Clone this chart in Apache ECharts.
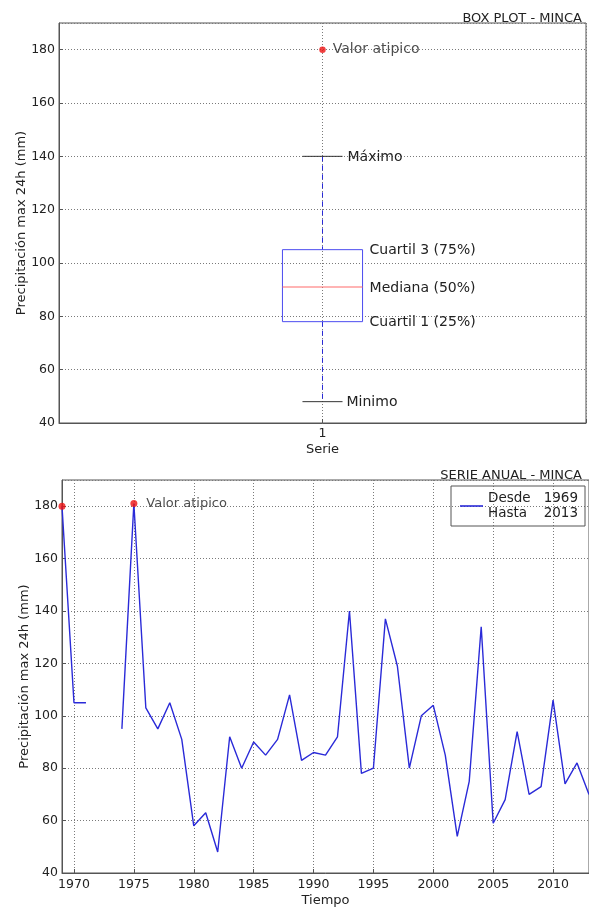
<!DOCTYPE html>
<html><head><meta charset="utf-8">
<script src="https://cdn.jsdelivr.net/npm/echarts@6/dist/echarts.min.js"></script>
<style>html,body{margin:0;padding:0;background:#fff}#c{width:589px;height:909px}</style>
</head><body><div id="c"></div>
<script>
// ---------- data ----------
const boxTitle = 'BOX PLOT - MINCA';
const lineTitle = 'SERIE ANUAL - MINCA';
const yAxisName = 'Precipitación max 24h (mm)';
const boxXName = 'Serie';
const lineXName = 'Tiempo';
const boxPosition = 1;
const boxTickLabel = '1';
const boxStats = [48, 78, 91, 105, 140]; // min, Q1, median, Q3, max
const boxStatLabels = ['Minimo', 'Cuartil 1 (25%)', 'Mediana (50%)', 'Cuartil 3 (75%)', 'Máximo'];
const boxOutliers = [180];
const outlierLabel = 'Valor atipico';
const years = [1969,1970,1971,1972,1973,1974,1975,1976,1977,1978,1979,1980,1981,1982,1983,1984,1985,1986,1987,1988,1989,1990,1991,1992,1993,1994,1995,1996,1997,1998,1999,2000,2001,2002,2003,2004,2005,2006,2007,2008,2009,2010,2011,2012,2013];
const precip = [180,105,105,null,null,95,181,103,95,105,91,58,63,48,92,80,90,85,91,108,83,86,85,92,140,78,80,137,119,80,100,104,85,54,75,134,59,68,94,70,73,106,74,82,70];
const outlierYears = [1969, 1975];
const legendWords = ['Desde', 'Hasta'];

// ---------- style ----------
const FONT = 'DejaVu Sans';
const TXT = '#222';
const BLUE = '#2a2ad8';
const BOX_HALF = 0.076;
const CAP_HALF = 0.038;
const gridLine = {show: true, lineStyle: {color: '#7a7a7a', type: [1, 2], width: 1}};
const axisLine = {show: true, lineStyle: {color: '#555', width: 1}};
const axisTick = {show: true, inside: true, length: 4, lineStyle: {color: '#555'}};
const tickLabel = {fontFamily: FONT, fontSize: 12.5, color: TXT};
const nameStyle = {fontFamily: FONT, fontSize: 13, color: TXT};

const chart = echarts.init(document.getElementById('c'));

const option = {
  animation: false,
  textStyle: {fontFamily: FONT},
  title: [
    {text: boxTitle, right: 2, top: 7, textStyle: {fontSize: 13, fontWeight: 'normal', color: TXT, fontFamily: FONT}},
    {text: lineTitle, right: 2, top: 464, textStyle: {fontSize: 13, fontWeight: 'normal', color: TXT, fontFamily: FONT}}
  ],
  legend: {
    data: [{name: 'serie', icon: 'rect'}], right: 4, top: 486,
    borderColor: '#555', borderWidth: 1, borderRadius: 0,
    padding: [5, 7, 5, 9], itemWidth: 23, itemHeight: 1.6,
    formatter: () => `{a|${legendWords[0]}}{b|${years[0]}}\n{a|${legendWords[1]}}{b|${years[years.length - 1]}}`,
    textStyle: {
      color: TXT, fontFamily: FONT, fontSize: 13.5, lineHeight: 15,
      rich: {
        a: {width: 55, fontSize: 13.5, fontFamily: FONT, color: TXT, lineHeight: 15},
        b: {width: 35, align: 'right', fontSize: 13.5, fontFamily: FONT, color: TXT, lineHeight: 15}
      }
    }
  },
  grid: [
    {left: 59, top: 23, right: -1, height: 400, show: true, borderColor: '#555', borderWidth: 1},
    {left: 62, top: 480, right: -1, height: 393, show: true, borderColor: '#555', borderWidth: 1}
  ],
  xAxis: [
    {gridIndex: 0, type: 'value', min: 0.5, max: 1.5, interval: 0.5,
     axisLine, axisTick, splitLine: gridLine,
     axisLabel: Object.assign({margin: 4, formatter: v => (v === boxPosition ? boxTickLabel : '')}, tickLabel),
     name: boxXName, nameLocation: 'middle', nameGap: 20, nameMoveOverlap: false, nameTextStyle: nameStyle},
    {gridIndex: 1, type: 'value', min: years[0], max: years[years.length - 1],
     minInterval: 5, maxInterval: 5, splitNumber: 9,
     axisLine, axisTick, splitLine: gridLine,
     axisLabel: Object.assign({margin: 5, showMinLabel: false, showMaxLabel: false, formatter: v => String(v)}, tickLabel),
     name: lineXName, nameLocation: 'middle', nameGap: 21, nameMoveOverlap: false, nameTextStyle: nameStyle}
  ],
  yAxis: [
    {gridIndex: 0, type: 'value', min: 40, max: 190, interval: 20,
     axisLine, axisTick, splitLine: gridLine,
     axisLabel: Object.assign({margin: 4, showMaxLabel: false}, tickLabel),
     name: yAxisName, nameLocation: 'middle', nameGap: 31, nameMoveOverlap: false, nameTextStyle: nameStyle},
    {gridIndex: 1, type: 'value', min: 40, max: 190, interval: 20,
     axisLine, axisTick, splitLine: gridLine,
     axisLabel: Object.assign({margin: 4, showMaxLabel: false}, tickLabel),
     name: yAxisName, nameLocation: 'middle', nameGap: 31, nameMoveOverlap: false, nameTextStyle: nameStyle}
  ],
  series: [
    {
      type: 'custom', xAxisIndex: 0, yAxisIndex: 0, clip: false,
      data: [[boxPosition].concat(boxStats)],
      encode: {x: 0, y: [1, 2, 3, 4, 5]},
      renderItem: function (params, api) {
        const x = api.value(0);
        const p = [1, 2, 3, 4, 5].map(i => api.coord([x, api.value(i)]));
        const cx = p[0][0];
        const hb = api.size([BOX_HALF, 0])[0];
        const hc = api.size([CAP_HALF, 0])[0];
        const txt = (i, tx) => ({type: 'text', style: {text: boxStatLabels[i], x: tx, y: p[i][1] + 1, fill: TXT,
          fontSize: 14, fontFamily: FONT, align: 'left', verticalAlign: 'middle'}});
        return {type: 'group', children: [
          {type: 'line', shape: {x1: cx, y1: p[4][1], x2: cx, y2: p[3][1]}, style: {stroke: BLUE, lineWidth: 1, lineDash: [5, 4]}},
          {type: 'line', shape: {x1: cx, y1: p[1][1], x2: cx, y2: p[0][1]}, style: {stroke: BLUE, lineWidth: 1, lineDash: [5, 4]}},
          {type: 'line', shape: {x1: cx - hc, y1: p[4][1], x2: cx + hc, y2: p[4][1]}, style: {stroke: '#333', lineWidth: 1}},
          {type: 'line', shape: {x1: cx - hc, y1: p[0][1], x2: cx + hc, y2: p[0][1]}, style: {stroke: '#333', lineWidth: 1}},
          {type: 'rect', shape: {x: cx - hb, y: p[3][1], width: 2 * hb, height: p[1][1] - p[3][1]}, style: {stroke: '#4b4bf0', fill: 'none', lineWidth: 1}},
          {type: 'line', shape: {x1: cx - hb, y1: p[2][1], x2: cx + hb, y2: p[2][1]}, style: {stroke: '#ff6a6a', lineWidth: 1.2}},
          txt(4, cx + hc + 5), txt(3, cx + hb + 7), txt(2, cx + hb + 7), txt(1, cx + hb + 7), txt(0, cx + hc + 4)
        ]};
      }
    },
    {
      type: 'scatter', xAxisIndex: 0, yAxisIndex: 0, clip: false,
      symbolSize: 6.5, itemStyle: {color: '#ee1111'},
      data: boxOutliers.map(v => [boxPosition, v]),
      label: {show: true, position: 'right', distance: 7, formatter: outlierLabel,
              fontFamily: FONT, fontSize: 14, color: TXT}
    },
    {
      type: 'line', name: 'serie', xAxisIndex: 1, yAxisIndex: 1,
      data: years.map((y, i) => [y, precip[i]]),
      symbol: 'none', showSymbol: false, connectNulls: false,
      lineStyle: {color: BLUE, width: 1.4}, itemStyle: {color: BLUE}
    },
    {
      type: 'scatter', xAxisIndex: 1, yAxisIndex: 1, clip: false,
      symbolSize: 7, itemStyle: {color: '#ee1111'}, z: 5,
      data: outlierYears.map((y, k) => ({
        value: [y, precip[years.indexOf(y)]],
        label: {show: k === outlierYears.length - 1}
      })),
      label: {position: 'right', distance: 9, formatter: outlierLabel,
              fontFamily: FONT, fontSize: 13, color: TXT}
    }
  ]
};
chart.setOption(option);
</script>
</body></html>
